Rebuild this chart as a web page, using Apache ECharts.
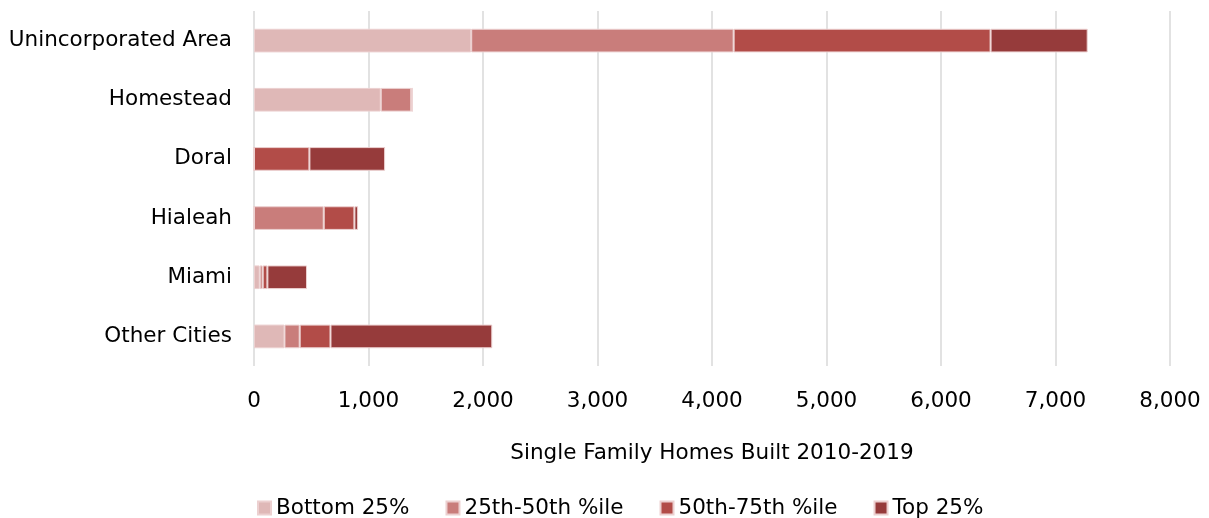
<!DOCTYPE html>
<html>
<head>
<meta charset="utf-8">
<script src="https://cdn.jsdelivr.net/npm/echarts@6/dist/echarts.min.js"></script>
<style>
  html, body { margin: 0; padding: 0; background: #fff; }
  #chart { width: 1209px; height: 518px; }
</style>
</head>
<body>
<div id="chart"></div>
<script>
var areas = ["Unincorporated Area", "Homestead", "Doral", "Hialeah", "Miami", "Other Cities"];
var bottom25 = [1897, 1107, 0, 0, 50, 266];
var p25to50 = [2292, 266, 0, 609, 26, 133];
var p50to75 = [2244, 8, 484, 268, 41, 269];
var top25 = [848, 0, 661, 32, 346, 1413];
var xTicks = [0, 1000, 2000, 3000, 4000, 5000, 6000, 7000, 8000];

var font = "DejaVu Sans";
var colors = ["#dfb8b7", "#c97d7b", "#b24c48", "#963b3b"];

function bar(name, data) {
  return {
    name: name,
    type: "bar",
    stack: "total",
    barWidth: "40%",
    data: data,
    itemStyle: { borderColor: "#ecd0d0", borderWidth: 1 }
  };
}

var chart = echarts.init(document.getElementById("chart"));
chart.setOption({
  animation: false,
  color: colors,
  textStyle: { fontFamily: font },
  grid: { left: 254, right: 39, top: 11, bottom: 152 },
  legend: {
    top: 492,
    left: 252,
    icon: "rect",
    itemWidth: 13,
    itemHeight: 13,
    itemGap: 36,
    textStyle: { fontSize: 21.5, color: "#000", fontFamily: font }
  },
  xAxis: {
    type: "value",
    min: xTicks[0],
    max: xTicks[xTicks.length - 1],
    interval: 1000,
    name: "Single Family Homes Built 2010-2019",
    nameLocation: "middle",
    nameGap: 76,
    nameTextStyle: { fontSize: 21.5, color: "#000", fontFamily: font },
    axisLine: { show: false },
    axisTick: { show: false },
    axisLabel: {
      fontSize: 21.5, color: "#000", margin: 24,
      formatter: function (v) { return v.toLocaleString("en-US"); }
    },
    splitLine: { lineStyle: { color: "#d9d9d9", width: 1.5 } }
  },
  yAxis: {
    type: "category",
    inverse: true,
    data: areas,
    axisLine: { show: false },
    axisTick: { show: false },
    axisLabel: { fontSize: 21.5, color: "#000", margin: 22 }
  },
  series: [
    bar("Bottom 25%", bottom25),
    bar("25th-50th %ile", p25to50),
    bar("50th-75th %ile", p50to75),
    bar("Top 25%", top25)
  ]
});
</script>
</body>
</html>
